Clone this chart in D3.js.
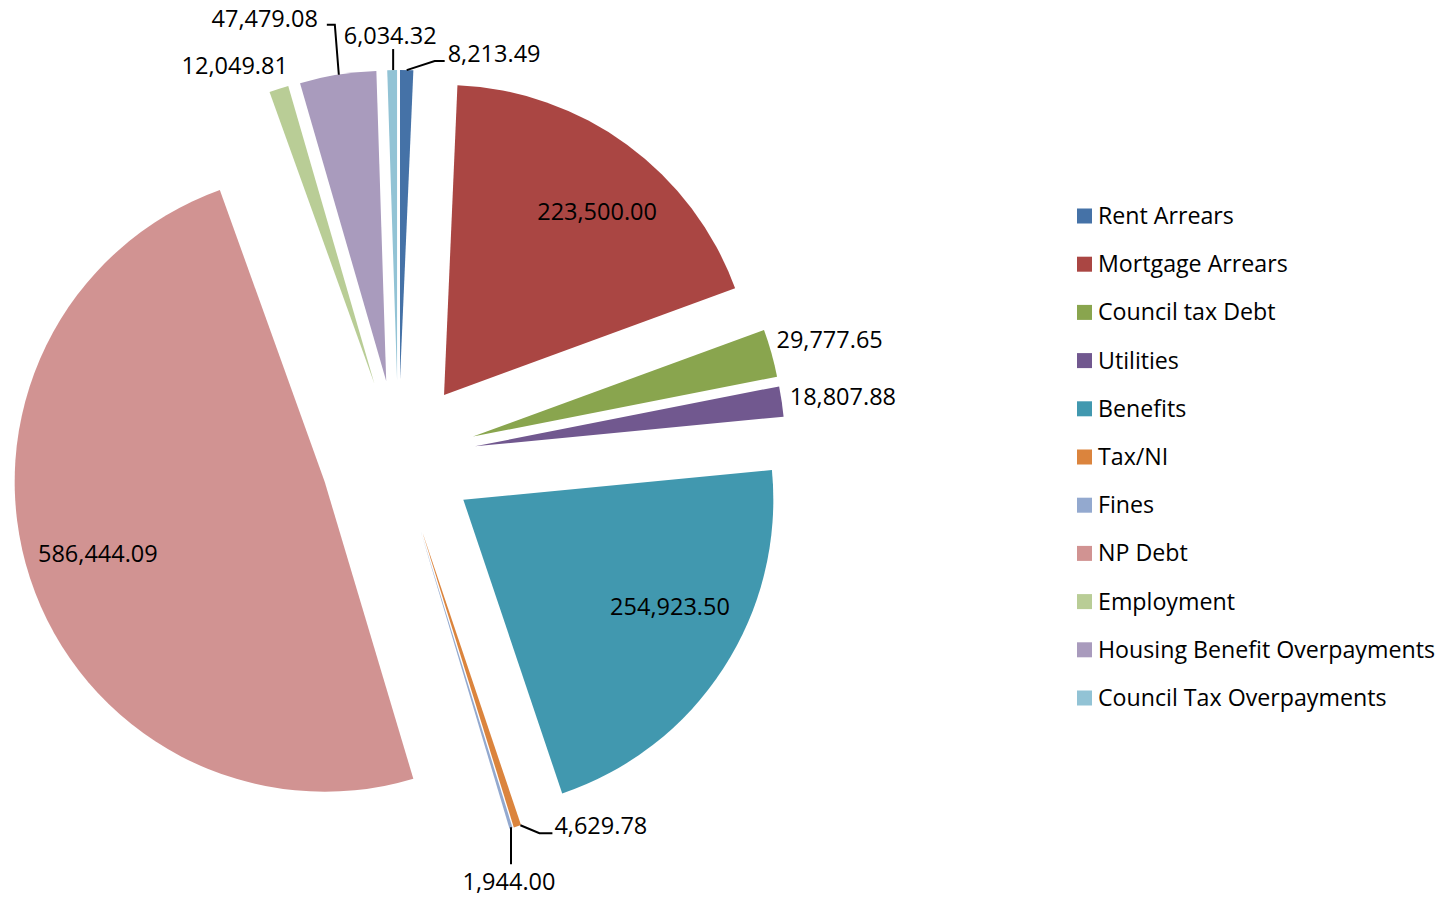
<!DOCTYPE html>
<html>
<head>
<meta charset="utf-8">
<script src="https://cdn.jsdelivr.net/npm/d3@7/dist/d3.min.js"></script>
<style>
  body { margin: 0; background: #fff; }
  text { font-family: "Open Sans", sans-serif; fill: #000; }
</style>
</head>
<body>
<svg id="chart" width="1447" height="898"></svg>
<script>
// debt categories, in the order Excel draws them (clockwise from 12 o'clock)
const categories = [
  'Rent Arrears', 'Mortgage Arrears', 'Council tax Debt', 'Utilities', 'Benefits',
  'Tax/NI', 'Fines', 'NP Debt', 'Employment', 'Housing Benefit Overpayments',
  'Council Tax Overpayments',
];
const values = [
  8213.49, 223500.00, 29777.65, 18807.88, 254923.50,
  4629.78, 1944.00, 586444.09, 12049.81, 47479.08,
  6034.32,
];
const colors = [
  '#4572a7', '#aa4643', '#89a54e', '#71588f', '#4198af',
  '#db843d', '#93a9cf', '#d19392', '#b9cd96', '#a99bbd',
  '#92c3d5',
];

/* frame settings */
const cx = 398.3;
const cy = 457.5;
const radius = 310;
const explode = radius * 0.25;

const fmt = d3.format(',.2f');

/* label placement per slice: inside ones get a nudge off the centroid,
   outside ones sit relative to the outer edge point, optional leader line */
const labelPos = [
  { out: true, dx: 41, dy: -17, anchor: 'start', leader: [[0, 0], [28, -9], [38, -9]] },
  { out: false, dx: 14, dy: 6 },
  { out: true, dx: 5, dy: -14, anchor: 'start' },
  { out: true, dx: 8, dy: -6, anchor: 'start' },
  { out: false, dx: 9, dy: -22 },
  { out: true, dx: 37, dy: -1, anchor: 'start', leader: [[3, -1], [22, 7], [35, 7]] },
  { out: true, dx: -2, dy: 53, anchor: 'middle', leader: [[0, -1], [0, 36]] },
  { out: false, dx: -3, dy: -2 },
  { out: true, dx: 9, dy: -24, anchor: 'end' },
  { out: true, dx: -20, dy: -57, anchor: 'end', leader: [[1, 0], [-3, -50], [-11, -50]] },
  { out: true, dx: -2, dy: -35, anchor: 'middle', leader: [[1, 0], [1, -21]] },
];

const svg = d3.select('#chart');

const pie = d3.pie().sort(null).value(d => d);
const arcs = pie(values);

const arc = d3.arc().innerRadius(0).outerRadius(radius);
const edgeArc = d3.arc().innerRadius(radius).outerRadius(radius);
const inArc = d3.arc().innerRadius(radius * 0.76).outerRadius(radius * 0.76);
const shiftArc = d3.arc().innerRadius(explode).outerRadius(explode);

/* slices, each pushed out along its bisector */
const slices = svg.append('g')
  .attr('transform', `translate(${cx},${cy})`);

slices.selectAll('path')
  .data(arcs)
  .enter()
  .append('path')
  .attr('transform', d => `translate(${shiftArc.centroid(d)})`)
  .attr('d', arc)
  .attr('fill', (d, i) => colors[i]);

/* data labels */
const labels = svg.append('g')
  .attr('transform', `translate(${cx},${cy})`);

arcs.forEach((d, i) => {
  const cfg = labelPos[i];
  const [sx, sy] = shiftArc.centroid(d);
  let px;
  let py;
  if (cfg.out) {
    const [ex, ey] = edgeArc.centroid(d);
    px = sx + ex;
    py = sy + ey;
    if (cfg.leader) {
      labels.append('path')
        .attr('d', d3.line()(cfg.leader.map(p => [px + p[0], py + p[1]])))
        .attr('fill', 'none')
        .attr('stroke', '#000')
        .attr('stroke-width', 2);
    }
  } else {
    const [ix, iy] = inArc.centroid(d);
    px = sx + ix;
    py = sy + iy;
  }
  labels.append('text')
    .attr('x', px + cfg.dx)
    .attr('y', py + cfg.dy)
    .attr('text-anchor', cfg.out ? cfg.anchor : 'middle')
    .attr('dominant-baseline', 'central')
    .attr('font-size', 23.5)
    .text(fmt(values[i]));
});

/* legend */
const legendY = d3.scalePoint()
  .domain(categories)
  .range([216, 698]);

const legend = svg.append('g')
  .selectAll('g')
  .data(categories)
  .enter()
  .append('g')
  .attr('transform', d => `translate(1077,${legendY(d)})`);

legend.append('rect')
  .attr('x', 0)
  .attr('y', -7.5)
  .attr('width', 15)
  .attr('height', 15)
  .attr('fill', (d, i) => colors[i]);

legend.append('text')
  .attr('x', 21)
  .attr('y', -1)
  .attr('dominant-baseline', 'central')
  .attr('font-size', 23.2)
  .text(d => d);
</script>
</body>
</html>
